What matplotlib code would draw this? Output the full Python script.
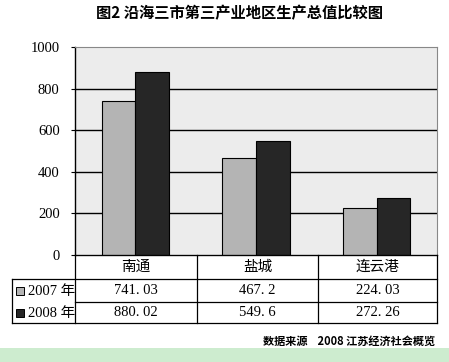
import matplotlib
matplotlib.use("Agg")
import matplotlib.pyplot as plt
from matplotlib.patches import Rectangle
import numpy as np

plt.rcParams['font.family'] = ['Noto Sans CJK SC', 'DejaVu Sans']

title = "图2 沿海三市第三产业地区生产总值比较图"
categories = ["南通", "盐城", "连云港"]
series_names = ["2007 年", "2008 年"]
values_2007 = [741.03, 467.2, 224.03]
values_2008 = [880.02, 549.6, 272.26]
value_labels_2007 = ["741. 03", "467. 2", "224. 03"]
value_labels_2008 = ["880. 02", "549. 6", "272. 26"]
yticks = [0, 200, 400, 600, 800, 1000]
source = "数据来源    2008 江苏经济社会概览"

colors = ["#b4b4b4", "#262626"]

W, H = 449, 362
fig = plt.figure(figsize=(W/100, H/100), dpi=100)
fig.patch.set_facecolor("white")

def fx(px): return px / W
def fy(py): return 1 - py / H

L, R, T, B = 75, 437, 47, 255
ax = fig.add_axes([fx(L), fy(B), fx(R) - fx(L), fy(T) - fy(B)])
ax.set_facecolor("#ececec")
ax.set_xlim(0, 3)
ax.set_ylim(0, 1000)

x = np.arange(len(categories)) + 0.5
bw = 0.28
ax.bar(x - bw/2, values_2007, bw, color=colors[0], edgecolor="black", linewidth=0.8, zorder=3)
ax.bar(x + bw/2, values_2008, bw, color=colors[1], edgecolor="black", linewidth=0.8, zorder=3)

for v in yticks[1:-1]:
    ax.axhline(v, color="black", linewidth=1.0, zorder=1)

ax.set_yticks(yticks)
ax.set_yticklabels([str(t) for t in yticks], fontsize=10.5, family=['Liberation Serif'])
ax.tick_params(axis='y', direction='out', length=3, pad=8, width=0.8)
ax.set_xticks([])
for s in ["top", "right"]:
    ax.spines[s].set_color("#888888")
    ax.spines[s].set_linewidth(0.8)
ax.spines["left"].set_color("black")
ax.spines["left"].set_linewidth(1.0)
ax.spines["bottom"].set_color("black")

fig.text(fx(239), fy(13), title, ha="center", va="center", fontsize=11, fontweight="bold")

# table
rows = [255, 279, 302, 323]
cols = [75, 197, 318, 437]
lk = dict(color="black", linewidth=0.9)
def hline(y, x0, x1):
    fig.add_artist(plt.Line2D([fx(x0), fx(x1)], [fy(y), fy(y)], **lk))
def vline(xp, y0, y1):
    fig.add_artist(plt.Line2D([fx(xp), fx(xp)], [fy(y0), fy(y1)], **lk))
hline(255, 75, 437)
hline(279, 12, 437)
hline(302, 75, 437)
hline(323, 12, 437)
vline(12, 279, 323)
for c in cols:
    vline(c, 255, 323)

for i, cat in enumerate(categories):
    cx = (cols[i] + cols[i+1]) / 2
    fig.text(fx(cx), fy(267), cat, ha="center", va="center", fontsize=10.5)
    fig.text(fx(cx), fy(291), value_labels_2007[i], ha="center", va="center", fontsize=10.5, family=['Liberation Serif'])
    fig.text(fx(cx), fy(313), value_labels_2008[i], ha="center", va="center", fontsize=10.5, family=['Liberation Serif'])

for j, (name, yy) in enumerate(zip(series_names, [291, 313])):
    fig.add_artist(Rectangle((fx(16), fy(yy + 4)), fx(8), fy(yy - 4) - fy(yy + 4),
                             facecolor=colors[j], edgecolor="black", linewidth=0.7))
    fig.text(fx(28), fy(yy), name, ha="left", va="center", fontsize=10.5,
             family=['Liberation Serif', 'Noto Sans CJK SC'])

fig.text(fx(435), fy(341), source, ha="right", va="center", fontsize=8, fontweight="bold")

fig.add_artist(Rectangle((0, 0), 1, fy(348), facecolor="#cdeccf", edgecolor="none"))

fig.savefig("out.png", dpi=100, facecolor="white")
